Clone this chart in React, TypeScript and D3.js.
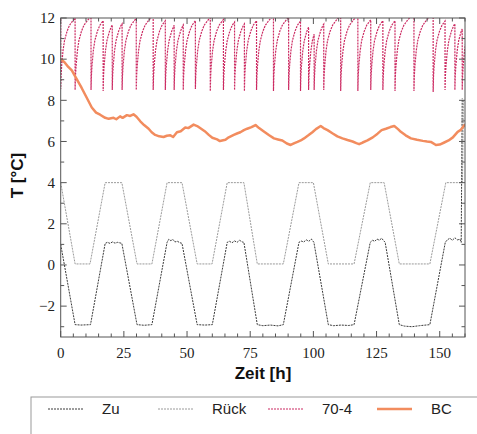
import React from "react";
import * as d3 from "d3";

// ---------- data ----------
const X_TICK_LABELS = [0, 25, 50, 75, 100, 125, 150];
const Y_TICK_LABELS = [-2, 0, 2, 4, 6, 8, 10, 12];

// Rück (return) temperature, breakpoints [h, °C]
const RUECK_T = [0, 5.7, 11.6, 17.6, 24.2, 30.2, 36.1, 42.1, 48, 54, 59.9, 65.9, 72.5, 77.8, 88.1, 94.3, 100, 105.9, 116.1, 122.5, 128, 134, 146.1, 152.4, 159.0, 159.4];
const RUECK_V = [4.0, 0.05, 0.05, 4.0, 4.0, 0.05, 0.05, 4.0, 4.0, 0.05, 0.05, 4.0, 4.0, 0.05, 0.05, 4.0, 4.0, 0.05, 0.05, 4.0, 4.0, 0.05, 0.05, 4.0, 4.0, 8.0];

// Zu (supply) temperature
const ZU_T = [0, 5.7, 8, 11.8, 17.6, 18.5, 19.5, 20.5, 21.5, 22.5, 24.2, 30.2, 33, 36.1, 42.1, 42.8, 43.6, 44.4, 45.2, 46.2, 47.2, 48, 54, 57, 60, 65.9, 66.8, 67.8, 68.8, 69.8, 70.8, 71.8, 72.5, 77.8, 80, 83, 86, 88.1, 94.3, 95.2, 96.2, 97.2, 98.2, 99.2, 100.2, 105.9, 108, 111, 114, 116.1, 122.5, 123.4, 124.3, 125.2, 126.1, 127, 127.8, 128.4, 134, 136, 139, 142, 146.1, 152.2, 153, 154, 155, 156, 157, 158.0, 158.5, 158.9];
const ZU_V = [1.0, -2.9, -2.92, -2.9, 1.05, 1.1, 1.05, 1.12, 1.06, 1.1, 1.05, -2.9, -2.93, -2.9, 1.1, 1.25, 1.18, 1.24, 1.12, 1.15, 1.08, 1.05, -2.9, -2.92, -2.9, 1.1, 1.15, 1.08, 1.17, 1.1, 1.2, 1.12, 1.1, -2.9, -2.95, -2.92, -2.96, -2.9, 1.1, 1.16, 1.12, 1.22, 1.15, 1.26, 1.1, -2.9, -2.95, -2.92, -2.94, -2.9, 1.1, 1.2, 1.15, 1.26, 1.2, 1.3, 1.18, 1.1, -2.9, -2.97, -3.0, -2.95, -2.9, 1.1, 1.22, 1.3, 1.2, 1.32, 1.22, 1.25, 1.1, 8.1];

// 70-4: switching times, minima, and recovery profile after each switch
const SPIKE_T = [0, 5.7, 12.0, 16.8, 20.4, 24.3, 29.9, 36.6, 41.4, 44.9, 48.5, 53.3, 59.2, 64.4, 68.8, 72.7, 77.5, 84.2, 90.2, 94.9, 98.1, 100.3, 104.1, 110.8, 117.6, 122.7, 127.5, 132.3, 139.8, 147.4, 152.1, 156.0, 158.9];
const SPIKE_MIN = [8.55, 8.5, 8.5, 8.45, 8.5, 8.5, 8.5, 8.5, 8.5, 8.5, 8.5, 8.55, 8.45, 8.5, 8.5, 8.45, 8.5, 8.45, 8.5, 8.45, 8.5, 8.5, 8.5, 8.45, 8.45, 8.5, 8.5, 8.45, 8.45, 8.4, 8.5, 8.5, 8.5];
const REC_DT = [0, 0.15, 0.4, 0.9, 1.5, 2.5, 3.5, 5.0, 6.5];
const REC_V = [8.5, 9.2, 9.7, 10.4, 10.9, 11.35, 11.65, 11.9, 12.1];

// BC
const BC_T = [0, 1.5, 3, 4.4, 6, 8.3, 10, 12.3, 14, 15.6, 17.6, 19, 20.9, 22, 23.5, 24.5, 26.2, 27.5, 28.8, 30, 31.5, 33, 34.8, 36, 37.4, 39, 40.7, 42, 43.4, 44.5, 46, 47.5, 49.3, 50.5, 52.6, 54, 55.3, 57, 58.6, 60, 61.9, 63, 65.2, 66.5, 68.5, 70, 71.1, 72.5, 73.8, 75.5, 77.1, 78.5, 80.4, 82.5, 84.4, 86, 87.7, 89.5, 91, 92.5, 93.7, 95, 96.3, 98, 99.6, 101, 102.9, 104, 105.6, 107.5, 109.5, 111.5, 113.5, 115.5, 117, 118.1, 119.5, 121.4, 123.5, 125.4, 127, 128.7, 130.5, 132, 133.5, 134.6, 136.5, 138.6, 141, 143.3, 145, 146.5, 148.5, 150, 151.8, 153.5, 155.2, 157.1, 158.2, 159.8, 160];
const BC_V = [10.0, 9.85, 9.62, 9.45, 9.1, 8.6, 8.2, 7.65, 7.4, 7.3, 7.15, 7.1, 7.15, 7.08, 7.22, 7.15, 7.28, 7.24, 7.32, 7.2, 6.98, 6.8, 6.62, 6.45, 6.32, 6.25, 6.22, 6.28, 6.3, 6.22, 6.45, 6.5, 6.68, 6.65, 6.82, 6.75, 6.64, 6.5, 6.32, 6.18, 6.1, 6.02, 6.08, 6.2, 6.32, 6.4, 6.45, 6.55, 6.62, 6.7, 6.8, 6.65, 6.48, 6.3, 6.15, 6.1, 6.05, 5.9, 5.83, 5.92, 5.98, 6.05, 6.15, 6.3, 6.45, 6.6, 6.75, 6.65, 6.55, 6.4, 6.25, 6.15, 6.07, 6.0, 5.92, 5.87, 5.95, 6.05, 6.2, 6.38, 6.55, 6.62, 6.7, 6.75, 6.6, 6.47, 6.3, 6.15, 6.08, 6.03, 6.0, 5.98, 5.83, 5.85, 5.95, 6.05, 6.2, 6.47, 6.55, 6.8, 6.75];

const LEGEND = ["Zu", "Rück", "70-4", "BC"];

// ---------- layout / style ----------
const W = 477, H = 434;
const PL = 60.7, PR = 465, PT = 18, PB = 337;
const C_ZU = "#3a3a3a";
const C_RUECK = "#9a9a9a";
const C_704 = "#cc2a62";
const C_BC = "#f28c5e";

type P = [number, number];

function build704(): P[] {
  const rec = d3.scaleLinear().domain(REC_DT).range(REC_V).clamp(true);
  const pts: P[] = [];
  for (let i = 0; i < SPIKE_T.length; i++) {
    const t0 = SPIKE_T[i];
    const next = i + 1 < SPIKE_T.length ? SPIKE_T[i + 1] : 160.5;
    if (i === 0) pts.push([t0, 12.1]);
    pts.push([t0, SPIKE_MIN[i]]);
    for (let k = 1; k < REC_DT.length; k++) {
      const tk = t0 + REC_DT[k];
      if (tk >= next) break;
      pts.push([tk, REC_V[k]]);
    }
    pts.push([next, rec(next - t0)]);
  }
  return pts;
}

export default function App() {
  const x = d3.scaleLinear().domain([0, 160]).range([PL, PR]);
  const y = d3.scaleLinear().domain([-3.5, 12]).range([PB, PT]);
  const line = d3.line<P>().x((d) => x(d[0])).y((d) => y(d[1]));

  const zu: P[] = ZU_T.map((t, i) => [t, ZU_V[i]]);
  const rueck: P[] = RUECK_T.map((t, i) => [t, RUECK_V[i]]);
  const bc: P[] = BC_T.map((t, i) => [t, BC_V[i]]);
  const s704 = build704();

  const xMinor = d3.range(0, 161, 5);
  const yMinor = d3.range(-3, 12.5, 1);

  const serif = "'Liberation Serif', 'Times New Roman', serif";
  const sans = "'Liberation Sans', Arial, sans-serif";

  const legendX = [48, 158, 268, 377];
  const legendStyles = [
    { c: C_ZU, w: 1, dash: "2,1" },
    { c: C_RUECK, w: 1, dash: "2,1" },
    { c: C_704, w: 1.2, dash: "2,1" },
    { c: C_BC, w: 2.5, dash: "" },
  ];

  return (
    <svg width={W} height={H} style={{ position: "absolute", left: 0, top: 0, background: "#fff" }}>
      <defs>
        <clipPath id="plotclip">
          <rect x={PL} y={PT} width={PR - PL} height={PB - PT} />
        </clipPath>
      </defs>
      <rect x={0} y={0} width={W} height={H} fill="#fff" />

      <g clipPath="url(#plotclip)">
        <path d={line(rueck) || ""} fill="none" stroke={C_RUECK} strokeWidth={1} strokeDasharray="2,1" />
        <path d={line(zu) || ""} fill="none" stroke={C_ZU} strokeWidth={1} strokeDasharray="2,1" />
        <path d={line(s704) || ""} fill="none" stroke={C_704} strokeWidth={1.2} strokeDasharray="2,1" />
        <path d={line(bc) || ""} fill="none" stroke={C_BC} strokeWidth={2.5} strokeLinejoin="round" />
      </g>

      {/* frame */}
      <rect x={PL} y={PT} width={PR - PL} height={PB - PT} fill="none" stroke="#555" strokeWidth={1} />

      {/* x ticks (inward, bottom and top) */}
      {xMinor.map((v) => {
        const major = v % 25 === 0;
        const len = major ? 6 : 3.5;
        return (
          <g key={"xt" + v} stroke="#555" strokeWidth={1}>
            <line x1={x(v)} x2={x(v)} y1={PB} y2={PB - len} />
            <line x1={x(v)} x2={x(v)} y1={PT} y2={PT + len} />
          </g>
        );
      })}
      {/* y ticks (inward, left and right) */}
      {yMinor.map((v) => {
        const major = v % 2 === 0;
        const len = major ? 6 : 3.5;
        return (
          <g key={"yt" + v} stroke="#555" strokeWidth={1}>
            <line x1={PL} x2={PL + len} y1={y(v)} y2={y(v)} />
            <line x1={PR} x2={PR - len} y1={y(v)} y2={y(v)} />
          </g>
        );
      })}

      {X_TICK_LABELS.map((v) => (
        <text key={"xl" + v} x={x(v)} y={358} textAnchor="middle" fontFamily={serif} fontSize={15} fill="#222">
          {v}
        </text>
      ))}
      {Y_TICK_LABELS.map((v) => (
        <text key={"yl" + v} x={55} y={y(v)} dy="0.35em" textAnchor="end" fontFamily={serif} fontSize={15} fill="#222">
          {v < 0 ? "\u2212" + Math.abs(v) : v}
        </text>
      ))}

      <text x={263} y={379} textAnchor="middle" fontFamily={sans} fontWeight="bold" fontSize={17} fill="#111">
        Zeit [h]
      </text>
      <text transform={`translate(23,${(PT + PB) / 2 - 2}) rotate(-90)`} textAnchor="middle" fontFamily={sans} fontWeight="bold" fontSize={17} fill="#111">
        T [°C]
      </text>

      {/* legend */}
      <rect x={31} y={397} width={480} height={60} fill="none" stroke="#999" strokeWidth={1} />
      {LEGEND.map((name, i) => {
        const s = legendStyles[i];
        return (
          <g key={name}>
            <line x1={legendX[i]} x2={legendX[i] + 35} y1={409} y2={409} stroke={s.c} strokeWidth={s.w} strokeDasharray={s.dash || undefined} />
            <text x={legendX[i] + 54} y={414} fontFamily={sans} fontSize={15} fill="#222">
              {name}
            </text>
          </g>
        );
      })}
    </svg>
  );
}
